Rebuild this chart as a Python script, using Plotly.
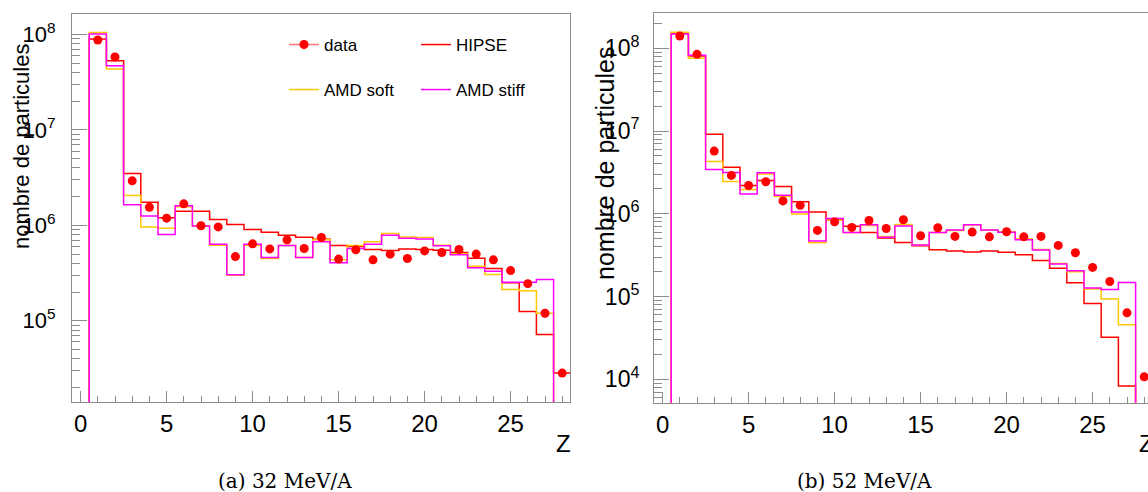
import plotly.graph_objects as go

W, H = 1148, 492

Z = list(range(0, 29))

# ---- 32 MeV/A ----
data_32 = [None, 8.76e7, 5.81e7, 2.93e6, 1.55e6, 1.19e6, 1.68e6, 9.9e5, 9.64e5, 4.71e5, 6.4e5,
           5.67e5, 7.05e5, 5.72e5, 7.46e5, 4.43e5, 5.54e5, 4.35e5, 4.99e5, 4.5e5, 5.4e5,
           5.19e5, 5.58e5, 5.0e5, 4.35e5, 3.36e5, 2.45e5, 1.2e5, 2.83e4]
hipse_32 = [0, 8.97e7, 5.32e7, 3.49e6, 1.75e6, 1.2e6, 1.41e6, 1.41e6, 1.15e6, 1.02e6, 9.03e5,
            8.48e5, 7.89e5, 7.5e5, 7.16e5, 6.14e5, 6.0e5, 5.58e5, 5.45e5, 5.67e5, 5.58e5,
            5.5e5, 5.19e5, 4.53e5, 3.53e5, 2.51e5, 1.25e5, 7.17e4, 2.83e4]
amd_soft_32 = [0, 1.05e8, 4.36e7, 2.05e6, 9.64e5, 9.35e5, 1.57e6, 9.8e5, 6.2e5, 3.0e5, 6.16e5,
               4.5e5, 6.14e5, 4.6e5, 7.05e5, 4.35e5, 6.14e5, 6.72e5, 8.2e5, 7.57e5, 7.45e5,
               6.2e5, 5.05e5, 3.74e5, 3.06e5, 2.13e5, 2.06e5, 1.2e5, 0]
amd_stiff_32 = [0, 1.01e8, 4.71e7, 1.64e6, 1.25e6, 8.01e5, 1.61e6, 9.83e5, 6.35e5, 3.03e5, 6.35e5,
                4.6e5, 6.14e5, 4.6e5, 6.72e5, 4.05e5, 5.72e5, 6.35e5, 7.89e5, 7.34e5, 7.2e5,
                6.1e5, 4.91e5, 3.59e5, 3.31e5, 2.54e5, 2.54e5, 2.71e5, 0]

# ---- 52 MeV/A ----
data_52 = [None, 1.41e8, 8.45e7, 5.73e6, 2.91e6, 2.2e6, 2.44e6, 1.43e6, 1.27e6, 6.3e5, 8.0e5,
           6.85e5, 8.3e5, 6.65e5, 8.46e5, 5.42e5, 6.78e5, 5.33e5, 6.01e5, 5.27e5, 6.06e5,
           5.27e5, 5.33e5, 4.15e5, 3.38e5, 2.25e5, 1.52e5, 6.35e4, 1.07e4]
hipse_52 = [0, 1.52e8, 8.07e7, 9.12e6, 3.64e6, 2.2e6, 2.53e6, 2.14e6, 1.4e6, 1.05e6, 8.46e5,
            7.05e5, 5.96e5, 5.1e5, 4.51e5, 4.1e5, 3.67e5, 3.54e5, 3.45e5, 3.54e5, 3.42e5,
            3.19e5, 2.73e5, 2.19e5, 1.47e5, 8.26e4, 3.21e4, 8.3e3, 0]
amd_soft_52 = [0, 1.56e8, 7.57e7, 4.3e6, 2.46e6, 1.97e6, 3.02e6, 1.62e6, 9.92e5, 4.47e5, 8.4e5,
               5.96e5, 7.2e5, 5.3e5, 7.4e5, 4.19e5, 5.96e5, 6.3e5, 7.3e5, 6.35e5, 6.05e5,
               5.0e5, 3.7e5, 2.5e5, 2.0e5, 1.23e5, 9.33e4, 4.56e4, 0]
amd_stiff_52 = [0, 1.49e8, 8.22e7, 3.44e6, 3.16e6, 1.73e6, 3.13e6, 1.67e6, 1.05e6, 4.68e5, 8.8e5,
                5.96e5, 7.36e5, 5.22e5, 7.1e5, 4.19e5, 5.96e5, 6.35e5, 7.36e5, 6.35e5, 6.0e5,
                4.85e5, 3.64e5, 2.47e5, 2.05e5, 1.27e5, 1.22e5, 1.48e5, 0]

series_names = ["HIPSE", "AMD soft", "AMD stiff"]
series_colors = ["#ff0000", "#ffc800", "#ff00ff"]
captions = ["(a) 32 MeV/A", "(b) 52 MeV/A"]
y_title = "nombre de particules"
x_title = "Z"
x_ticks = [0, 5, 10, 15, 20, 25]

FLOOR = 1.0  # empty bins drawn below the visible range


def steps(values):
    """Histogram outline: bin edges + values (hv shape), dropping to floor at ends."""
    xs = [z - 0.5 for z in Z] + [Z[-1] + 0.5, Z[-1] + 0.5]
    vals = [v if v and v > 0 else FLOOR for v in values]
    ys = vals + [vals[-1], FLOOR]
    return xs, ys


def fx(sx):
    return sx / W


def fy(sy):
    return 1 - sy / H


fig = go.Figure()

panels = [
    dict(xa="x", ya="y", hist=[hipse_32, amd_soft_32, amd_stiff_32], data=data_32),
    dict(xa="x2", ya="y2", hist=[hipse_52, amd_soft_52, amd_stiff_52], data=data_52),
]

for p in panels:
    for name, col, vals in zip(series_names, series_colors, p["hist"]):
        xs, ys = steps(vals)
        fig.add_trace(go.Scatter(x=xs, y=ys, mode="lines", line=dict(color=col, width=1.5, shape="hv"),
                                 name=name, xaxis=p["xa"], yaxis=p["ya"], showlegend=False,
                                 hoverinfo="skip"))
    fig.add_trace(go.Scatter(x=Z, y=p["data"], mode="markers", name="data",
                             marker=dict(color="#ff0000", size=9), xaxis=p["xa"], yaxis=p["ya"],
                             showlegend=False, cliponaxis=False))

legend_ids = {"data": "legend", "HIPSE": "legend2", "AMD soft": "legend3", "AMD stiff": "legend4"}
fig.add_trace(go.Scatter(x=[None], y=[None], mode="lines+markers", name="data",
                         line=dict(color="rgba(255,0,0,0.55)", width=1.5),
                         marker=dict(color="#ff0000", size=9), legend="legend"))
for name, col in zip(series_names, series_colors):
    fig.add_trace(go.Scatter(x=[None], y=[None], mode="lines", name=name,
                             line=dict(color=col, width=1.5), legend=legend_ids[name]))

# ---- geometry (screen pixels) ----
px_per_z = 17.2
L1, R1, T1, B1 = 72, 570, 14, 402
L2, R2, T2, B2 = 654, W, 13.3, 402.7


def xr(left, right):
    return [-0.5, -0.5 + (right - left) / px_per_z]


def minor_vals(lo, hi):
    return [m * 10 ** e for e in range(lo, hi + 1) for m in range(2, 10)]


def pow_labels(exps):
    return ["10<sup>%d</sup>" % e for e in exps]


gray = "#8c8c8c"
axis_common = dict(showline=True, linecolor=gray, linewidth=1, mirror=True, showgrid=False,
                   zeroline=False, ticks="inside", tickcolor=gray)
xminor = dict(ticks="inside", ticklen=6, tickcolor=gray, dtick=1, tick0=0)

fig.update_layout(
    width=W, height=H, margin=dict(l=0, r=0, t=0, b=0),
    paper_bgcolor="white", plot_bgcolor="white",
    font=dict(family="Liberation Sans, Arial, sans-serif", color="black"),
    xaxis=dict(domain=[fx(L1), fx(R1)], range=xr(L1, R1), anchor="y",
               tickmode="array", tickvals=x_ticks, ticklen=11,
               tickfont=dict(size=24), ticklabelstandoff=0, minor=xminor, **axis_common),
    yaxis=dict(domain=[fy(B1), fy(T1)], type="log", range=[4.149, 8.215], anchor="x",
               tickmode="array", tickvals=[10 ** e for e in range(5, 9)], ticktext=pow_labels(range(5, 9)),
               ticklen=15, tickfont=dict(size=22), ticklabelstandoff=11,
               minor=dict(ticks="inside", ticklen=8, tickcolor=gray, tickvals=minor_vals(4, 8)),
               **axis_common),
    xaxis2=dict(domain=[fx(L2), fx(R2)], range=xr(L2, R2), anchor="y2",
                tickmode="array", tickvals=x_ticks, ticklen=11,
                tickfont=dict(size=24), ticklabelstandoff=0, minor=xminor, **axis_common),
    yaxis2=dict(domain=[fy(B2), fy(T2)], type="log", range=[3.717, 8.423], anchor="x2",
                tickmode="array", tickvals=[10 ** e for e in range(4, 9)], ticktext=pow_labels(range(4, 9)),
                ticklen=15, tickfont=dict(size=23), ticklabelstandoff=9,
                minor=dict(ticks="inside", ticklen=8, tickcolor=gray, tickvals=minor_vals(3, 8)),
                **axis_common),
)

leg_common = dict(bgcolor="rgba(0,0,0,0)", borderwidth=0, font=dict(size=17),
                  xanchor="left", yanchor="middle", itemwidth=30)
fig.update_layout(
    legend=dict(x=fx(284), y=fy(45), **leg_common),
    legend2=dict(x=fx(416), y=fy(45), **leg_common),
    legend3=dict(x=fx(284), y=fy(90), **leg_common),
    legend4=dict(x=fx(416), y=fy(90), **leg_common),
)

serif = "DejaVu Serif, serif"
annos = [
    dict(text=y_title, x=fx(21), y=fy(147), textangle=-90, font=dict(size=22)),
    dict(text=y_title, x=fx(605), y=fy(163), textangle=-90, font=dict(size=25)),
    dict(text=x_title, x=fx(563), y=fy(443), font=dict(size=24)),
    dict(text=x_title, x=fx(1146), y=fy(443), font=dict(size=24)),
    dict(text=captions[0], x=fx(285), y=fy(481), font=dict(size=20, family=serif)),
    dict(text=captions[1], x=fx(864), y=fy(481), font=dict(size=20, family=serif)),
]
for a in annos:
    fig.add_annotation(xref="paper", yref="paper", showarrow=False, xanchor="center", yanchor="middle", **a)

# place the figure flush with the window's top-left corner (no default body margin)
fig.write_html("out.html",
               config={"displayModeBar": False},
               post_script="document.body.style.margin='0';document.body.style.overflow='hidden';")
